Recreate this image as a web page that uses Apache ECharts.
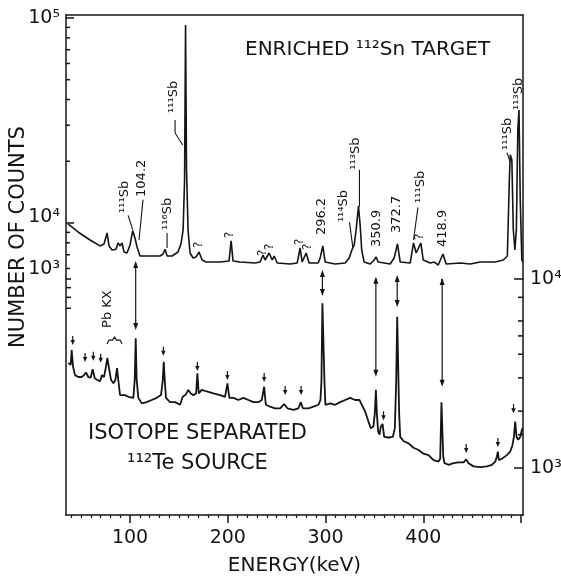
<!DOCTYPE html>
<html>
<head>
<meta charset="utf-8">
<script src="https://cdn.jsdelivr.net/npm/echarts@6/dist/echarts.min.js"></script>
<style>
  html, body { margin: 0; padding: 0; background: #fff; }
  #chart { width: 561px; height: 576px; }
</style>
</head>
<body>
<div id="chart"></div>
<script>
// upper spectrum: enriched 112Sn target, [energy keV, counts] (left axis)
const targetSpectrum = [
  [36.5, 9890], [46.8, 9040], [59.1, 8260], [69.3, 7730], [73.4, 7900], [76.5, 8940], [78.5, 7730],
  [81.6, 7380], [85.7, 7450], [87.7, 7990], [89.8, 7730], [91.8, 7990], [93.9, 7220], [96.9, 7140],
  [100, 7810], [102.8, 9180], [105.1, 8420], [107.2, 7640], [110.2, 6900], [130.7, 6900], [133.8, 7060],
  [135.8, 7450], [137.9, 6900], [143, 6900], [149.1, 7220], [152.2, 7930], [154.3, 9250], [155.8, 16200],
  [156.8, 92400], [157.8, 18200], [159.4, 9180], [161.4, 7140], [164.5, 6750], [167.6, 6830], [170.6, 7220],
  [173.7, 6600], [177.8, 6450], [192.1, 6450], [201.3, 6520], [203.4, 8180], [205.4, 6520], [212.6, 6450],
  [228, 6380], [233, 6450], [236.1, 6970], [238.2, 6600], [242.3, 7140], [245.4, 6600], [247.4, 6900],
  [250.6, 6380], [263.8, 6310], [271, 6380], [274, 7550], [276.1, 6450], [280.2, 7140], [283.2, 6380],
  [292.4, 6380], [294.5, 6750], [297.2, 7730], [299.6, 6450], [309.8, 6310], [320.1, 6380], [324.2, 6750],
  [326.9, 7380], [329.3, 7810], [331.3, 9250], [333.7, 12100], [335.4, 9770], [337, 7380], [339.5, 6450],
  [345.7, 6310], [349.8, 6600], [351.8, 6830], [353.8, 6450], [366.1, 6310], [370.2, 6750], [373.6, 7900],
  [376.4, 6450], [386.6, 6380], [390, 7990], [392.7, 7140], [397.5, 7990], [399.9, 6600], [407.1, 6380],
  [411.2, 6450], [415.3, 6240], [420.1, 7060], [423.4, 6310], [437.8, 6380], [448, 6310], [458.3, 6450],
  [473.6, 6450], [481.9, 6600], [486, 6900], [488, 16200], [489, 21500], [490.6, 20300], [492.1, 9250],
  [493.7, 7380], [495.2, 9250], [496.7, 28500], [497.9, 35600], [499.2, 12900], [500.8, 6600], [501.9, 6450]
];

// lower spectrum: isotope separated 112Te source, [energy keV, counts] (right axis)
const sourceSpectrum = [
  [36.9, 3600], [39.3, 3510], [40.3, 4210], [41.7, 3440], [43.7, 3100], [47.1, 3030], [50.6, 3030],
  [52.9, 3100], [55, 3200], [57.3, 3030], [59.8, 3010], [61.8, 3330], [63.9, 2980], [66.5, 2920],
  [69.3, 2880], [71.3, 3100], [73.4, 3030], [75.4, 3440], [76.8, 3820], [78.5, 3380], [80.6, 2920],
  [83, 2810], [85, 2920], [86.7, 3380], [88, 2920], [89.8, 2430], [94.9, 2430], [98.3, 2380],
  [103.4, 2350], [104.8, 2920], [105.8, 4850], [106.8, 2920], [108.5, 2350], [112, 2200], [117, 2230],
  [122.2, 2290], [127.3, 2350], [131.7, 2430], [133.5, 2920], [134.5, 3650], [135.5, 2920], [136.8, 2350],
  [140.9, 2230], [146.1, 2230], [151.2, 2160], [153.9, 2380], [156.6, 2430], [159.7, 2590], [162.1, 2480],
  [164.8, 2430], [167.6, 2480], [168.9, 3170], [170.3, 2480], [173.4, 2590], [178.5, 2540], [185.3, 2480],
  [192.1, 2430], [197.2, 2380], [199.6, 2800], [201.6, 2350], [205.7, 2350], [210.8, 2290], [216, 2350],
  [221.1, 2290], [226.2, 2230], [231.3, 2230], [234.8, 2290], [237.2, 2690], [238.9, 2160], [243.3, 2110],
  [248.4, 2070], [253.5, 2070], [255.3, 2110], [257.6, 2180], [259, 2230], [261, 2070], [267.2, 2030],
  [272.3, 2070], [274.7, 2230], [276.8, 2070], [282.5, 2070], [287.6, 2110], [292.7, 2160], [294.8, 2290],
  [295.8, 2860], [296.8, 7440], [297.9, 7280], [298.9, 2860], [299.9, 2160], [304.7, 2200], [309.8, 2160],
  [314.9, 2230], [320.1, 2290], [325.2, 2350], [330.3, 2290], [334.7, 2290], [337.1, 2160], [340.5, 1990],
  [343.9, 1760], [346.4, 1620], [349, 1660], [350.4, 1940], [351.5, 2590], [352.5, 1940], [353.8, 1560],
  [355.2, 1500], [356.6, 1660], [358.3, 1710], [360, 1460], [364.4, 1450], [368.8, 1460], [370.9, 1620],
  [372.3, 2920], [373.3, 6310], [374.3, 6210], [375.3, 1940], [376.4, 1460], [379.7, 1390], [384.9, 1350],
  [390, 1280], [395.1, 1245], [400.2, 1190], [405.3, 1170], [410.5, 1100], [415.6, 1080], [417.3, 1120],
  [418.6, 2230], [419.3, 2230], [420.4, 1150], [421.7, 1060], [425.8, 1040], [430.9, 1060], [436, 1070],
  [441.2, 1070], [443.9, 1110], [446.3, 1060], [451.4, 1020], [458.2, 1010], [465.1, 1020], [470.2, 1040],
  [473.6, 1080], [475.3, 1150], [476.3, 1220], [477.3, 1100], [480.4, 1120], [485.5, 1170], [488.9, 1220],
  [491.2, 1320], [492.7, 1460], [494, 1760], [495.4, 1460], [497.1, 1410], [499.2, 1460], [501.2, 1620]
];

// axis ticks
const energyLabels = [100, 200, 300, 400];
const energyMajorTicks = [100, 200, 300, 400, 500];
const energyMinorTicks = [40, 50, 60, 70, 80, 90, 110, 120, 130, 140, 150, 160, 170, 180, 190, 210, 220, 230,
  240, 250, 260, 270, 280, 290, 310, 320, 330, 340, 350, 360, 370, 380, 390, 410, 420, 430, 440, 450, 460,
  470, 480, 490];
const upperLabels = [10000, 100000];
const upperMinorTicks = [6000, 7000, 8000, 9000, 20000, 30000, 40000, 50000, 60000, 70000, 80000, 90000];
const lowerLeftLabels = [1000];
const lowerLeftTicks = [700, 800, 900, 1000];
const lowerRightLabels = [1000, 10000];
const lowerRightMinorTicks = [1500, 2000, 3000, 4000, 5000, 6000, 8000];

// peak annotations on the upper spectrum: label anchor (energy, counts), text, leader line points
const noteEnergy = [94.9, 112.3, 138.4, 144.5, 296.5, 318.5, 330.3, 351.8, 372.8, 396.8, 419.9, 486.4, 497.7,
  170.9, 202.4, 236.4, 242.6, 274, 281.5, 396.8];
const noteCounts = [11200, 13400, 9250, 34400, 8730, 10100, 18200, 7640, 8930, 12530, 7640, 22700, 35600,
  7550, 8450, 6900, 7380, 7810, 7380, 8260];
const noteText = ['¹¹¹Sb', '104.2', '¹¹⁶Sb', '¹¹¹Sb', '296.2', '¹¹⁴Sb', '¹¹³Sb', '350.9', '372.7', '¹¹¹Sb',
  '418.9', '¹¹¹Sb', '¹¹³Sb', '?', '?', '?', '?', '?', '?', '?'];
const noteLeaders = [
  [[98.0, 10900], [102.8, 9250]],
  [[113.3, 13000], [109.2, 8260]],
  [[137.9, 8940], [137.9, 7550]],
  [[146.1, 31800], [146.1, 27500], [153.9, 24000]],
  null,
  [[324.5, 10100], [328, 7550]],
  [[334.7, 18200], [334.7, 12000]],
  null, null,
  [[394.5, 11900], [390, 8260]],
  null,
  [[485.6, 22000], [488.9, 19860]],
  null, null, null, null, null, null, null, null
];

// lines linking the two spectra: energy, upper end (target counts), lower end (source counts)
const linkEnergy = [105.8, 296.8, 351.5, 373.3, 419.3];
const linkTop = [6530, 5900, 5460, 5580, 5390];
const linkBottom = [5370, 8130, 3040, 7110, 2690];

// small arrows marking 112Te lines: energy, tip counts
const markEnergy = [41.4, 54, 62.4, 70, 134.1, 168.9, 199.6, 237.2, 258.7, 275, 359.3, 443.9, 476.3, 492.3];
const markCounts = [4480, 3640, 3690, 3600, 3920, 3260, 2920, 2850, 2430, 2430, 1790, 1200, 1290, 1950];

// Pb X-ray bracket: label anchor and bracket span
const pbLabel = [77.5, 5510];
const pbBracket = [76.5, 91.8, 4750];

const INK = '#141414';
const FONT = '"DejaVu Sans", sans-serif';
const E_MIN = 34.5;
const E_MAX = 502;
const sup = { 3: '³', 4: '⁴', 5: '⁵' };
const powerLabel = (v) => '10' + sup[Math.round(Math.log10(v))];

function head(x, y, dir, w, h) {
  // dir 1: pointing down, -1: pointing up
  return {
    type: 'polygon',
    shape: { points: [[x, y], [x - w, y - h * dir], [x + w, y - h * dir]] },
    style: { fill: INK }
  };
}

// tick marks on the log axes, drawn inward from the frame through the axis scale
function tickSeries(xIdx, yIdx, values, side, len) {
  return {
    type: 'custom', xAxisIndex: xIdx, yAxisIndex: yIdx, clip: false, silent: true, z: 5,
    data: values.map((v) => [(E_MIN + E_MAX) / 2, v]),
    renderItem: (params, api) => {
      const y = api.coord([api.value(0), api.value(1)])[1];
      const cs = params.coordSys;
      const x0 = side === 'left' ? cs.x : cs.x + cs.width;
      const x1 = side === 'left' ? x0 + len : x0 - len;
      return { type: 'line', shape: { x1: x0, y1: y, x2: x1, y2: y }, style: { stroke: INK, lineWidth: 1.5 } };
    }
  };
}

const chart = echarts.init(document.getElementById('chart'));

const baseX = { type: 'value', min: E_MIN, max: E_MAX, splitLine: { show: false } };
const lineStyleAxis = { show: true, lineStyle: { color: INK, width: 1.5 } };
const labelStyle = { color: INK, fontSize: 19, fontFamily: FONT };

chart.setOption({
  animation: false,
  grid: [
    { left: 66, right: 38, top: 15, height: 264, outerBoundsMode: 'none' },
    { left: 66, right: 38, top: 279, height: 236, outerBoundsMode: 'none' }
  ],
  xAxis: [
    { ...baseX, gridIndex: 0, position: 'top', axisLine: lineStyleAxis, axisTick: { show: false }, axisLabel: { show: false } },
    {
      ...baseX, gridIndex: 1, position: 'bottom', axisLine: lineStyleAxis,
      axisTick: { show: true, inside: false, length: 8, customValues: energyMajorTicks, lineStyle: { color: INK, width: 1.5 } },
      axisLabel: { ...labelStyle, customValues: energyLabels, margin: 14 },
      name: 'ENERGY(keV)', nameLocation: 'middle', nameGap: 41,
      nameTextStyle: { color: INK, fontSize: 20, fontFamily: FONT }
    },
    {
      ...baseX, gridIndex: 1, position: 'bottom', axisLine: { show: false },
      axisTick: { show: true, inside: false, length: 3, customValues: energyMinorTicks, lineStyle: { color: INK, width: 1.2 } },
      axisLabel: { show: false }
    }
  ],
  yAxis: [
    {
      type: 'log', gridIndex: 0, position: 'left', min: 5331, max: 103400, splitLine: { show: false },
      axisLine: lineStyleAxis, axisTick: { show: false },
      axisLabel: {
        ...labelStyle, customValues: upperLabels, margin: 6,
        formatter: (v) => v === 10000 ? '{up|' + powerLabel(v) + '}' : powerLabel(v),
        rich: { up: { ...labelStyle, padding: [0, 0, 12, 0] } }
      }
    },
    {
      type: 'log', gridIndex: 0, position: 'right', min: 5331, max: 103400, splitLine: { show: false },
      axisLine: lineStyleAxis, axisTick: { show: false }, axisLabel: { show: false }
    },
    {
      type: 'log', gridIndex: 1, position: 'left', min: 56.4, max: 1000, splitLine: { show: false },
      axisLine: lineStyleAxis, axisTick: { show: false },
      axisLabel: { ...labelStyle, customValues: lowerLeftLabels, margin: 6, verticalAlign: 'bottom', formatter: powerLabel }
    },
    {
      type: 'log', gridIndex: 1, position: 'right', min: 564, max: 10000, splitLine: { show: false },
      axisLine: lineStyleAxis, axisTick: { show: false },
      axisLabel: { ...labelStyle, customValues: lowerRightLabels, margin: 7, formatter: powerLabel }
    }
  ],
  graphic: [
    {
      type: 'text', left: 245, top: 40,
      style: { text: 'ENRICHED ¹¹²Sn TARGET', font: '20px ' + FONT, fill: INK }
    },
    {
      type: 'text', left: 88, top: 423,
      style: { text: 'ISOTOPE SEPARATED', font: '21px ' + FONT, fill: INK }
    },
    {
      type: 'text', left: 127, top: 453,
      style: { text: '¹¹²Te SOURCE', font: '21px ' + FONT, fill: INK }
    },
    {
      type: 'text', x: 19, y: 237, rotation: Math.PI / 2,
      style: { text: 'NUMBER OF COUNTS', font: '21px ' + FONT, fill: INK, align: 'center', verticalAlign: 'middle', textAlign: 'center', textVerticalAlign: 'middle' }
    }
  ],
  series: [
    {
      type: 'line', xAxisIndex: 0, yAxisIndex: 0, data: targetSpectrum,
      showSymbol: false, symbol: 'none', silent: true,
      lineStyle: { color: INK, width: 1.6 }
    },
    {
      type: 'line', xAxisIndex: 1, yAxisIndex: 3, data: sourceSpectrum,
      showSymbol: false, symbol: 'none', silent: true,
      lineStyle: { color: INK, width: 1.8 }
    },
    tickSeries(0, 0, upperMinorTicks, 'left', 4),
    tickSeries(0, 0, upperLabels, 'left', 8),
    tickSeries(1, 2, lowerLeftTicks, 'left', 5),
    tickSeries(1, 3, lowerRightMinorTicks, 'right', 5),
    tickSeries(1, 3, lowerRightLabels, 'right', 9),
    {
      // peak labels and leader lines
      type: 'custom', xAxisIndex: 0, yAxisIndex: 0, clip: false, silent: true,
      data: noteEnergy.map((e, i) => [e, noteCounts[i], i]),
      renderItem: (params, api) => {
        const i = api.value(2);
        const p = api.coord([api.value(0), api.value(1)]);
        const children = [{
          type: 'text', x: p[0], y: p[1], rotation: Math.PI / 2,
          style: {
            text: noteText[i], font: (noteText[i] === '?' ? '12px ' : '13px ') + FONT, fill: INK,
            align: 'left', verticalAlign: 'middle', textAlign: 'left', textVerticalAlign: 'middle'
          }
        }];
        if (noteLeaders[i]) {
          children.push({
            type: 'polyline',
            shape: { points: noteLeaders[i].map((pt) => api.coord(pt)) },
            style: { stroke: INK, lineWidth: 1.1, fill: null }
          });
        }
        return { type: 'group', children };
      }
    },
    {
      // linking arrows, upper part
      type: 'custom', xAxisIndex: 0, yAxisIndex: 0, clip: false, silent: true,
      data: linkEnergy.map((e, i) => [e, linkTop[i]]),
      renderItem: (params, api) => {
        const p = api.coord([api.value(0), api.value(1)]);
        const yEnd = params.coordSys.y + params.coordSys.height;
        return {
          type: 'group', children: [
            { type: 'line', shape: { x1: p[0], y1: p[1] + 4, x2: p[0], y2: yEnd }, style: { stroke: INK, lineWidth: 1.2 } },
            head(p[0], p[1], -1, 2.5, 7)
          ]
        };
      }
    },
    {
      // linking arrows, lower part
      type: 'custom', xAxisIndex: 1, yAxisIndex: 3, clip: false, silent: true,
      data: linkEnergy.map((e, i) => [e, linkBottom[i]]),
      renderItem: (params, api) => {
        const p = api.coord([api.value(0), api.value(1)]);
        const yStart = params.coordSys.y;
        return {
          type: 'group', children: [
            { type: 'line', shape: { x1: p[0], y1: yStart, x2: p[0], y2: p[1] - 4 }, style: { stroke: INK, lineWidth: 1.2 } },
            head(p[0], p[1], 1, 2.5, 7)
          ]
        };
      }
    },
    {
      // small arrows on the source spectrum
      type: 'custom', xAxisIndex: 1, yAxisIndex: 3, clip: false, silent: true,
      data: markEnergy.map((e, i) => [e, markCounts[i]]),
      renderItem: (params, api) => {
        const p = api.coord([api.value(0), api.value(1)]);
        return {
          type: 'group', children: [
            { type: 'line', shape: { x1: p[0], y1: p[1] - 9, x2: p[0], y2: p[1] - 3 }, style: { stroke: INK, lineWidth: 1.2 } },
            head(p[0], p[1], 1, 2.2, 5)
          ]
        };
      }
    },
    {
      // Pb KX label and bracket
      type: 'custom', xAxisIndex: 1, yAxisIndex: 3, clip: false, silent: true,
      data: [[pbLabel[0], pbLabel[1]]],
      renderItem: (params, api) => {
        const p = api.coord(pbLabel);
        const a = api.coord([pbBracket[0], pbBracket[2]]);
        const b = api.coord([pbBracket[1], pbBracket[2]]);
        const m = (a[0] + b[0]) / 2;
        return {
          type: 'group', children: [
            {
              type: 'text', x: p[0], y: p[1], rotation: Math.PI / 2,
              style: { text: 'Pb KX', font: '13px ' + FONT, fill: INK, align: 'left', verticalAlign: 'middle', textAlign: 'left', textVerticalAlign: 'middle' }
            },
            {
              type: 'polyline',
              shape: { points: [[a[0], a[1] + 4], [a[0] + 2, a[1]], [m - 2, a[1]], [m, a[1] - 3], [m + 2, a[1]], [b[0] - 2, b[1]], [b[0], b[1] + 4]] },
              style: { stroke: INK, lineWidth: 1.2, fill: null }
            }
          ]
        };
      }
    }
  ]
});
</script>
</body>
</html>
